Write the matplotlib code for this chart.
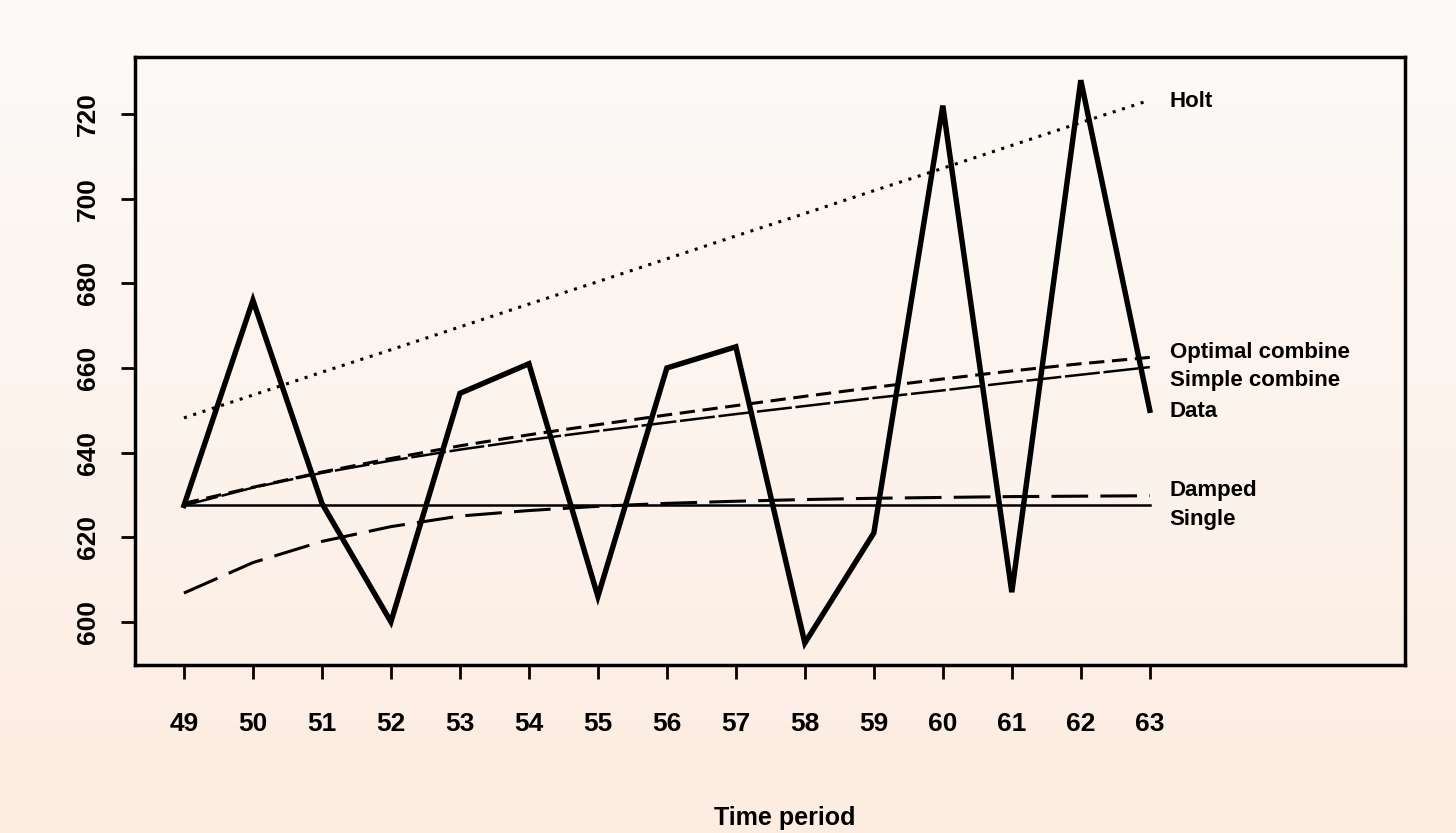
import numpy as np
import matplotlib
matplotlib.use('Agg')
import matplotlib.pyplot as plt

# time periods and forecast series
periods = [49, 50, 51, 52, 53, 54, 55, 56, 57, 58, 59, 60, 61, 62, 63]
data = [627.5, 676, 628, 600, 654, 661, 606, 660, 665, 595, 621, 722, 607, 728, 650]
holt = [648.2, 653.6, 659.0, 664.3, 669.7, 675.1, 680.4, 685.8, 691.2, 696.5, 701.9, 707.2, 712.6, 718.0, 723.3]
optimal = [628.0, 631.8, 635.4, 638.6, 641.6, 644.2, 646.6, 648.9, 651.1, 653.3, 655.4, 657.4, 659.3, 661.0, 662.5]
simple = [627.5, 631.7, 635.2, 638.1, 640.7, 643.0, 645.1, 647.1, 649.1, 651.0, 652.9, 654.7, 656.6, 658.4, 660.2]
damped = [606.8, 614.0, 619.0, 622.5, 625.0, 626.3, 627.3, 628.0, 628.5, 628.9, 629.2, 629.4, 629.6, 629.7, 629.8]
single = [627.5] * 15

labels = ['Holt', 'Optimal combine', 'Simple combine', 'Data', 'Damped', 'Single']
label_y = [723, 663.7, 657.1, 649.6, 631.0, 624.3]

plt.rcParams['font.family'] = ['Liberation Sans', 'DejaVu Sans']
plt.rcParams['font.weight'] = 'bold'

fig = plt.figure(figsize=(14.56, 8.33), dpi=100)

# peach paper background
bg = fig.add_axes([0, 0, 1, 1], zorder=-10)
grad = np.linspace(0, 1, 256).reshape(-1, 1)
top = np.array([253, 251, 249]) / 255
bot = np.array([252, 236, 225]) / 255
img = top + (bot - top) * grad[:, :, None]
bg.imshow(img, aspect='auto', extent=[0, 1, 0, 1])
bg.axis('off')

ax = fig.add_axes([0.0927, 0.2017, 0.8723, 0.7299])
ax.patch.set_alpha(0)

ax.plot(periods, data, color='black', lw=3.9, solid_joinstyle='miter')
ax.plot(periods, holt, color='black', lw=2.2, linestyle=(0, (1, 2.2)))
ax.plot(periods, optimal, color='black', lw=2.2, linestyle=(0, (5, 2.5)))
ax.plot(periods, simple, color='black', lw=1.8, linestyle=(0, (14, 1.5)))
ax.plot(periods, damped, color='black', lw=2.2, linestyle=(0, (12, 4)))
ax.plot(periods, single, color='black', lw=1.8)

for lab, y in zip(labels, label_y):
    ax.text(63.29, y, lab, fontsize=16, va='center', ha='left', color='black')

ax.set_xlim(48.29, 66.7)
ax.set_ylim(589.8, 733.5)

ax.set_xticks(periods)
ax.set_xticklabels([str(p) for p in periods])
ax.set_yticks([600, 620, 640, 660, 680, 700, 720])
ax.tick_params(axis='x', length=10, width=2, pad=24, labelsize=19)
ax.tick_params(axis='y', length=10, width=2, pad=15, labelsize=19)
for t in ax.get_yticklabels():
    t.set_rotation(90)
    t.set_va('center')

for s in ax.spines.values():
    s.set_linewidth(2.5)

fig.text(0.539, 0.018, 'Time period', fontsize=18, ha='center', va='center')

fig.savefig('out.png', dpi=100)
